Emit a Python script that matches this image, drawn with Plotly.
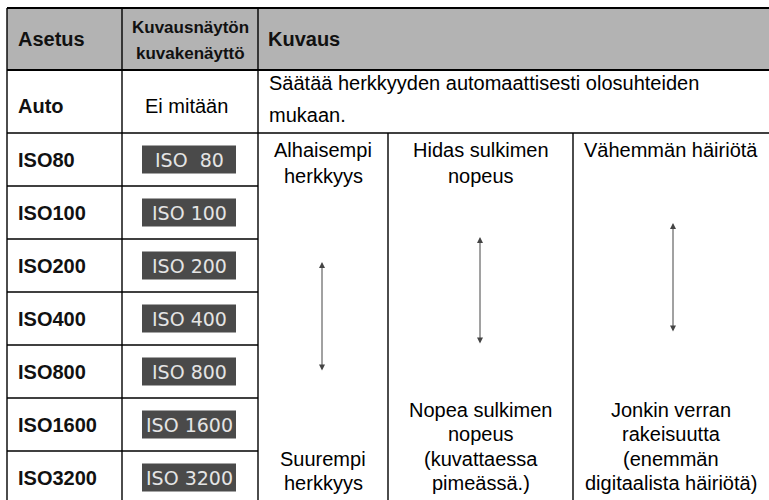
import plotly.graph_objects as go

# ---- data ----
header_labels = ["Asetus", ["Kuvausnäytön", "kuvakenäyttö"], "Kuvaus"]
settings = ["Auto", "ISO80", "ISO100", "ISO200", "ISO400", "ISO800", "ISO1600", "ISO3200"]
icon_labels = ["Ei mitään", "ISO\u00a0\u00a080", "ISO 100", "ISO 200", "ISO 400", "ISO 800", "ISO 1600", "ISO 3200"]
auto_desc = ["Säätää herkkyyden automaattisesti olosuhteiden", "mukaan."]
top_desc = [["Alhaisempi", "herkkyys"], ["Hidas sulkimen", "nopeus"], ["Vähemmän häiriötä"]]
bottom_desc = [["Suurempi", "herkkyys"],
               ["Nopea sulkimen", "nopeus", "(kuvattaessa", "pimeässä.)"],
               ["Jonkin verran", "rakeisuutta", "(enemmän", "digitaalista häiriötä)"]]

# ---- layout geometry (pixels) ----
W, H = 769, 500
x_left, x_c1, x_c2, x_c3, x_c4, x_right = 7, 122, 258, 388, 573, 769
y_top, y_head, y_auto = 8, 70, 133
row_h = 53
n_iso = len(settings) - 1
y_rows = [y_auto + i * row_h for i in range(n_iso + 1)]

REG = "Liberation Sans, Arial, sans-serif"
BOLD_COLOR = "#111111"
FS = 20

shapes = []
annotations = []

def line(x0, y0, x1, y1, w=1.4, color="black"):
    shapes.append(dict(type="line", x0=x0, y0=y0, x1=x1, y1=y1, xref="x", yref="y",
                       line=dict(color=color, width=w), layer="above"))

def text(x, y, s, anchor="left", size=FS, bold=False, color="black", family=REG):
    annotations.append(dict(x=x, y=y, text=("<b>%s</b>" % s) if bold else s, showarrow=False,
                            xanchor=anchor, yanchor="middle",
                            font=dict(family=family, size=size, color=color)))

def text_lines(x, y_first, lines, spacing, anchor="center", **kw):
    for k, s in enumerate(lines):
        text(x, y_first + k * spacing, s, anchor=anchor, **kw)

# header background
shapes.append(dict(type="rect", x0=x_left, y0=y_top, x1=x_right + 2, y1=y_head, xref="x", yref="y",
                   fillcolor="#b3b3b3", line=dict(width=0), layer="below"))

# horizontal lines
line(x_left, y_top, x_right + 2, y_top, 2)
line(x_left, y_head, x_right + 2, y_head, 2)
line(x_left, y_auto, x_right + 2, y_auto, 1.4)
for y in y_rows[1:-1]:
    line(x_left, y, x_c2, y, 1.4)

# vertical lines
for x in [x_left, x_c1, x_c2]:
    line(x, y_top, x, H + 10, 1.4)
for x in [x_c3, x_c4]:
    line(x, y_auto, x, H + 10, 1.4)

# header text
text(16, 38.5, header_labels[0], bold=True, color=BOLD_COLOR)
text_lines((x_c1 + x_c2) / 2, 27.5, header_labels[1], 26, size=17, bold=True, color=BOLD_COLOR)
text(266, 38.5, header_labels[2], bold=True, color=BOLD_COLOR)

# Auto row
text(16, 106, settings[0], bold=True, color=BOLD_COLOR)
text((x_c1 + x_c2) / 2 - 4, 106, icon_labels[0], anchor="center")
text_lines(267, 83, auto_desc, 32, anchor="left")

# ISO rows
for i in range(n_iso):
    y0, y1 = y_rows[i], y_rows[i + 1]
    ym = (y0 + y1) / 2
    text(16, ym, settings[i + 1], bold=True, color=BOLD_COLOR)
    cx = (x_c1 + x_c2) / 2 - 1
    shapes.append(dict(type="rect", x0=cx - 47, x1=cx + 47, y0=ym - 14, y1=ym + 14, xref="x", yref="y",
                       fillcolor="#4a4a4a", line=dict(width=0)))
    text(cx, ym, icon_labels[i + 1], anchor="center", size=19, color="#e4e4e4", family="DejaVu Sans")

# description sub-columns
col_x = [(x_c2 + x_c3) / 2, (x_c3 + x_c4) / 2, (x_c4 + x_right) / 2]
for i in range(3):
    text_lines(col_x[i], 150, top_desc[i], 25.5)
    n = len(bottom_desc[i])
    text_lines(col_x[i], 483 - (n - 1) * 24.5, bottom_desc[i], 24.5)

# double-headed arrows
arrows = [(322, 262, 372), (480, 237, 345), (673, 223, 333)]
for ax_, ytop, ybot in arrows:
    annotations.append(dict(x=ax_, y=ytop, ax=ax_, ay=ybot, xref="x", yref="y", axref="x", ayref="y",
                            text="", showarrow=True, arrowhead=2, startarrowhead=2, arrowside="end+start",
                            arrowsize=1.2, startarrowsize=1.2, arrowwidth=1, arrowcolor="#444444"))

fig = go.Figure()
fig.update_layout(
    width=W, height=H,
    margin=dict(l=0, r=0, t=0, b=0),
    paper_bgcolor="white", plot_bgcolor="white",
    xaxis=dict(range=[0, W], visible=False, fixedrange=True),
    yaxis=dict(range=[H, 0], visible=False, fixedrange=True),
    shapes=shapes, annotations=annotations, showlegend=False,
)
fig.write_html("out.html", config={"displayModeBar": False},
               post_script="document.body.style.margin='0';document.body.style.overflow='hidden';")
